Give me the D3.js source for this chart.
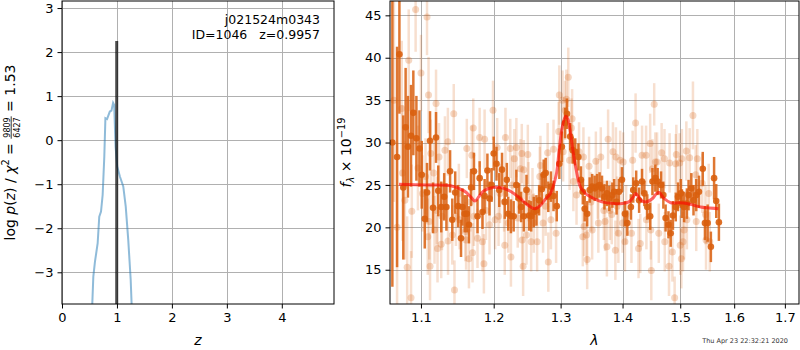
<!DOCTYPE html>
<html>
<head>
<meta charset="utf-8">
<script src="https://cdn.jsdelivr.net/npm/d3@7"></script>
<style>
  body { margin: 0; background: #fff; }
  text { font-family: "DejaVu Sans", sans-serif; }
</style>
</head>
<body>
<div id="chart"></div>
<script>
// ---- data: p(z) panel ----
const pzZ = [0.551, 0.57, 0.6, 0.649, 0.678, 0.71, 0.74, 0.77, 0.79, 0.82, 0.87, 0.90, 0.93, 0.95, 0.975, 1.005, 1.055, 1.115, 1.16, 1.206, 1.25, 1.267];
const pzLog = [-3.72, -3.10, -2.76, -2.34, -1.74, -1.62, -1.24, -0.37, 0.50, 0.48, 0.65, 0.67, 0.85, 0.80, -0.15, -0.60, -0.83, -1.05, -1.51, -2.27, -3.17, -3.72];
const zBest = 0.9957;
const zBestTop = 2.25;
const zTicks = [0, 1, 2, 3, 4];
const pzTicks = [-3, -2, -1, 0, 1, 2, 3];

// ---- data: spectrum panel (dark = first beam, light = second beam) ----
const darkWave = [1.063, 1.069, 1.072, 1.077, 1.080, 1.083, 1.087, 1.090, 1.094, 1.098, 1.101, 1.105, 1.108, 1.112, 1.116, 1.120, 1.123, 1.127, 1.131, 1.134,
  1.139, 1.142, 1.146, 1.150, 1.154, 1.156, 1.159, 1.162, 1.165, 1.168, 1.172, 1.177, 1.180, 1.184, 1.187, 1.191, 1.194, 1.197, 1.200, 1.204,
  1.208, 1.212, 1.216, 1.219, 1.221, 1.225, 1.229, 1.233, 1.237, 1.240, 1.244, 1.248, 1.252, 1.255, 1.259, 1.263, 1.267, 1.271, 1.274, 1.277,
  1.281, 1.285, 1.289, 1.294, 1.298, 1.302, 1.307, 1.310, 1.315, 1.319, 1.323, 1.328, 1.332, 1.335, 1.338, 1.342, 1.346, 1.350, 1.354, 1.358,
  1.362, 1.366, 1.370, 1.374, 1.378, 1.383, 1.386, 1.390, 1.394, 1.399, 1.404, 1.408, 1.414, 1.418, 1.423, 1.428, 1.433, 1.437, 1.442, 1.447,
  1.451, 1.456, 1.460, 1.466, 1.470, 1.474, 1.479, 1.483, 1.487, 1.492, 1.496, 1.501, 1.503, 1.507, 1.512, 1.515, 1.520, 1.524, 1.529, 1.534,
  1.541, 1.545, 1.550, 1.556, 1.562, 1.566, 1.571];
const darkFlux = [30.0, 28.3, 40.4, 24.7, 31.8, 29.5, 30.8, 33.5, 30.5, 29.3, 26.2, 21.0, 24.1, 30.2, 22.3, 30.6, 24.3, 22.4, 23.6, 22.4,
  26.6, 20.9, 24.1, 22.5, 18.7, 22.4, 21.6, 21.6, 20.3, 24.7, 26.6, 21.3, 25.8, 21.8, 23.7, 26.7, 23.4, 25.0, 28.7, 27.5,
  24.4, 26.8, 23.0, 25.6, 21.6, 21.3, 21.3, 25.0, 23.4, 22.4, 21.3, 24.4, 21.4, 21.3, 21.8, 22.0, 23.2, 24.5, 26.2, 26.4,
  23.6, 24.8, 23.7, 22.5, 27.5, 29.5, 32.3, 33.4, 30.7, 29.1, 28.9, 28.3, 25.6, 24.2, 22.2, 21.6, 24.4, 24.8, 24.6, 24.8,
  25.0, 24.6, 23.6, 24.0, 23.4, 23.8, 24.2, 23.0, 24.2, 25.6, 21.6, 20.5, 22.4, 24.4, 25.2, 23.2, 25.4, 24.0, 22.4, 21.3,
  25.4, 25.8, 25.4, 25.0, 23.8, 21.1, 20.3, 19.3, 21.4, 22.4, 23.6, 24.0, 22.8, 22.4, 22.8, 23.8, 24.6, 23.2, 23.8, 24.2,
  26.9, 20.5, 20.5, 17.7, 25.8, 23.1, 20.6];
const darkErr = [17, 13, 7, 8.5, 7, 6, 6, 5, 5, 4.5, 4, 3.5, 3.5, 3.5, 3, 3, 3, 3, 2.8, 2.8,
  2.5, 2.5, 2.5, 2.5, 2.2, 2.2, 2.2, 2.2, 2.2, 2.2, 2.2, 2, 2, 2, 2, 2, 2, 2, 2, 2,
  2, 2, 2, 2, 2, 2, 1.8, 1.8, 1.8, 1.8, 1.8, 1.8, 1.8, 1.8, 1.8, 1.8, 1.8, 1.8, 1.8, 1.8,
  1.8, 1.8, 1.8, 1.8, 1.8, 1.8, 1.8, 1.8, 1.6, 1.6, 1.6, 1.6, 1.6, 1.5, 1.5, 1.5, 1.5, 1.5, 1.5, 1.5,
  1.5, 1.5, 1.5, 1.5, 1.5, 1.5, 1.5, 1.5, 1.5, 1.5, 1.5, 1.5, 1.5, 1.5, 1.5, 1.5, 1.5, 1.5, 1.5, 1.6,
  1.6, 1.6, 1.6, 1.6, 1.6, 1.6, 1.6, 1.6, 1.7, 1.7, 1.7, 1.7, 1.7, 1.8, 1.8, 1.8, 1.8, 1.8, 1.9, 1.9,
  2, 2, 2.2, 1.8, 2.5, 2, 2.2];

const lightWave = [1.065, 1.069, 1.075, 1.076, 1.079, 1.082, 1.084, 1.087, 1.088, 1.093, 1.096, 1.100, 1.102, 1.106, 1.108, 1.109, 1.110, 1.111, 1.112, 1.113,
  1.117, 1.118, 1.120, 1.121, 1.122, 1.124, 1.127, 1.128, 1.132, 1.136, 1.1362, 1.142, 1.144, 1.145, 1.147, 1.151, 1.152, 1.160, 1.161, 1.162,
  1.165, 1.167, 1.169, 1.170, 1.171, 1.172, 1.177, 1.180, 1.184, 1.186, 1.187, 1.189, 1.194, 1.199, 1.202, 1.205, 1.207, 1.209, 1.215, 1.217,
  1.216, 1.221, 1.224, 1.225, 1.227, 1.230, 1.233, 1.235, 1.239, 1.241, 1.2415, 1.243, 1.244, 1.248, 1.250, 1.251, 1.255, 1.257, 1.259, 1.264,
  1.268, 1.269, 1.273, 1.277, 1.280, 1.281, 1.285, 1.289, 1.293, 1.297, 1.298, 1.303, 1.304, 1.307, 1.309, 1.312, 1.314, 1.317, 1.318, 1.320,
  1.325, 1.329, 1.335, 1.336, 1.337, 1.341, 1.342, 1.345, 1.348, 1.350, 1.356, 1.359, 1.360, 1.364, 1.369, 1.371, 1.374, 1.376, 1.379, 1.382,
  1.384, 1.388, 1.389, 1.391, 1.393, 1.396, 1.400, 1.401, 1.404, 1.406, 1.415, 1.417, 1.422, 1.427, 1.430, 1.433, 1.440, 1.4405, 1.447, 1.448,
  1.449, 1.451, 1.454, 1.456, 1.459, 1.462, 1.467, 1.472, 1.4725, 1.480, 1.481, 1.486, 1.490, 1.492, 1.493, 1.499, 1.500, 1.502, 1.503, 1.505,
  1.507, 1.511, 1.512, 1.517, 1.523, 1.528, 1.529, 1.531, 1.540, 1.546, 1.547, 1.552, 1.554];
const lightFlux = [35.0, 20.0, 34.0, 26.4, 23.2, 15.3, 39.7, 11.7, 21.9, 45.7, 27.0, 38.2, 24.0, 26.0, 44.8, 18.9, 35.6, 20.7, 15.4, 28.7,
  26.4, 19.7, 34.6, 22.0, 17.5, 28.3, 18.0, 21.3, 29.1, 30.1, 18.4, 19.1, 33.4, 12.6, 21.3, 24.0, 20.9, 19.5, 18.5, 29.3,
  16.3, 23.0, 28.5, 17.0, 31.7, 21.3, 18.7, 30.6, 18.3, 15.7, 30.4, 22.0, 20.3, 33.8, 20.9, 29.4, 21.3, 24.0, 23.0, 30.6,
  17.9, 20.5, 29.3, 16.5, 25.0, 28.1, 29.4, 21.1, 26.9, 28.7, 18.5, 15.4, 26.8, 19.1, 28.6, 24.2, 18.3, 23.5, 20.5, 18.3,
  26.0, 27.3, 20.5, 22.5, 28.8, 15.9, 20.9, 29.2, 19.3, 31.3, 35.6, 35.0, 28.9, 33.8, 35.1, 37.7, 27.9, 31.7, 32.8, 25.4,
  23.8, 28.9, 18.9, 28.3, 20.1, 19.1, 16.2, 27.2, 23.0, 19.7, 27.8, 24.5, 20.5, 28.3, 22.0, 20.7, 17.7, 30.4, 22.0, 21.5,
  28.9, 17.3, 28.3, 22.5, 19.3, 27.9, 20.5, 27.7, 18.3, 21.5, 19.3, 27.9, 32.3, 17.5, 18.1, 28.5, 28.5, 20.9, 29.9, 19.7,
  14.9, 26.9, 34.5, 27.7, 27.7, 19.3, 28.8, 28.1, 18.3, 15.4, 27.6, 17.1, 11.7, 27.5, 28.6, 27.6, 17.9, 16.3, 28.1, 18.3,
  19.7, 29.0, 20.9, 28.2, 33.2, 26.2, 20.7, 28.1, 25.2, 21.5, 18.5, 24.0, 18.3];
const lightErr = [12, 10, 8, 8, 7, 6, 6, 5.5, 5.5, 5, 5, 4.5, 4.5, 4.5, 4.5, 4.5, 4.5, 4.5, 4, 4,
  4, 4, 4, 4, 4, 4, 4, 4, 4, 4, 4, 3.5, 3.5, 3.5, 3.5, 3.5, 3.5, 3.5, 3.5, 3.5,
  3.5, 3.5, 3.5, 3.5, 3.5, 3.5, 3.5, 3.5, 3.5, 3.5, 3.5, 3.5, 3.5, 3.5, 3.5, 3.5, 3.5, 3.5, 3.5, 3.5,
  3.5, 3.5, 3.5, 3.5, 3.5, 3.5, 3.5, 3.5, 3.5, 3.5, 3.5, 3.5, 3.5, 3.5, 3.5, 3.5, 3.5, 3.5, 3.5, 3.5,
  3.5, 3.5, 3.5, 3.5, 3.5, 3.5, 3.5, 3.5, 3.5, 3.5, 3.5, 3.5, 3.5, 3.5, 3.5, 3.5, 3.5, 3.5, 3.5, 3.5,
  3.5, 3.5, 3.5, 3.5, 3.5, 3.5, 3.5, 3.5, 3.5, 3.5, 3.5, 3.5, 3.5, 3.5, 3.5, 3.5, 3.5, 3.5, 3.5, 3.5,
  3.5, 3.5, 3.5, 3.5, 3.5, 3.5, 3.5, 3.5, 3.5, 3.5, 3.5, 3.5, 3.5, 3.5, 3.5, 3.5, 3.5, 3.5, 3.5, 3.5,
  3.5, 3.5, 2.5, 3.5, 3.5, 3.5, 3.5, 3.5, 3.5, 3.5, 3.5, 3.5, 2.5, 3.5, 3.5, 3.5, 3.5, 3.5, 3.5, 3.5,
  3.5, 3.5, 3.5, 3.5, 4, 3.5, 3.5, 3.5, 3.5, 3.5, 3.5, 3.5, 3.5];

const modelWave = [1.0715, 1.1078, 1.1399, 1.1582, 1.1674, 1.1733, 1.1788, 1.1857, 1.1994, 1.2144, 1.2293, 1.2443, 1.2543, 1.2602, 1.2692, 1.2752,
  1.2842, 1.2932, 1.2976, 1.3027, 1.3079, 1.3112, 1.3147, 1.3200, 1.3244, 1.3309, 1.3389, 1.3524, 1.3658, 1.3847, 1.3992, 1.4108,
  1.4182, 1.4222, 1.4260, 1.4309, 1.4396, 1.4512, 1.4582, 1.4628, 1.4668, 1.4715, 1.4830, 1.4976, 1.5122, 1.5244, 1.5369, 1.5493, 1.5702];
const modelFlux = [25.07, 25.0, 24.9, 24.3, 23.6, 23.1, 23.6, 24.3, 24.7, 24.6, 24.0, 23.0, 22.4, 22.2, 22.6, 23.2,
  24.0, 26.2, 29.0, 31.9, 33.1, 32.8, 31.5, 28.7, 26.8, 24.8, 24.0, 23.4, 23.0, 22.8, 22.8, 23.0,
  23.6, 24.0, 23.7, 23.2, 23.0, 23.4, 24.0, 24.1, 23.8, 23.4, 22.9, 22.9, 22.8, 22.6, 22.4, 22.3, 22.2];
const waveTicks = [1.1, 1.2, 1.3, 1.4, 1.5, 1.6, 1.7];
const fluxTicks = [15, 20, 25, 30, 35, 40, 45];

// ---- drawing ----
const W = 800, H = 350;
const svg = d3.select("#chart").append("svg")
    .attr("width", W).attr("height", H);
svg.append("rect").attr("width", W).attr("height", H).attr("fill", "#fff");

const gridColor = "#b0b0b0";
const tickFont = 13;

// panel boxes
const L = {x0: 62, x1: 334, y0: 1, y1: 304};
const R = {x0: 390, x1: 799, y0: 1, y1: 304};

// scales
const xz = d3.scaleLinear().domain([0, 4.95]).range([L.x0, L.x1]);
const yz = d3.scaleLinear().domain([-3.72, 3.16]).range([L.y1, L.y0]);
const xw = d3.scaleLog().domain([1.06, 1.729]).range([R.x0, R.x1]);
const yf = d3.scaleLinear().domain([10.96, 46.69]).range([R.y1, R.y0]);

const defs = svg.append("defs");
defs.append("clipPath").attr("id", "clipL").append("rect")
    .attr("x", L.x0).attr("y", L.y0).attr("width", L.x1 - L.x0).attr("height", L.y1 - L.y0);
defs.append("clipPath").attr("id", "clipR").append("rect")
    .attr("x", R.x0).attr("y", R.y0).attr("width", R.x1 - R.x0).attr("height", R.y1 - R.y0);

function grid(box, xs, xt, ys, yt) {
    const g = svg.append("g").attr("stroke", gridColor).attr("stroke-width", 1);
    g.selectAll(".gx").data(xt).enter().append("line")
        .attr("x1", d => Math.round(xs(d)) + 0.5).attr("x2", d => Math.round(xs(d)) + 0.5)
        .attr("y1", box.y0).attr("y2", box.y1);
    g.selectAll(".gy").data(yt).enter().append("line")
        .attr("y1", d => Math.round(ys(d)) + 0.5).attr("y2", d => Math.round(ys(d)) + 0.5)
        .attr("x1", box.x0).attr("x2", box.x1);
}

function axes(box, xs, xt, xfmt, ys, yt, yfmt) {
    const ax = svg.append("g")
        .attr("transform", `translate(0,${box.y1})`)
        .call(d3.axisBottom(xs).tickValues(xt).tickFormat(xfmt).tickSize(4.5).tickPadding(4));
    const ay = svg.append("g")
        .attr("transform", `translate(${box.x0},0)`)
        .call(d3.axisLeft(ys).tickValues(yt).tickFormat(yfmt).tickSize(4.5).tickPadding(4));
    [ax, ay].forEach(a => {
        a.select(".domain").remove();
        a.selectAll("text").attr("font-size", tickFont).attr("fill", "#000")
            .style("font-family", "DejaVu Sans");
        a.selectAll("line").attr("stroke", "#000");
    });
    svg.append("rect")
        .attr("x", box.x0).attr("y", box.y0)
        .attr("width", box.x1 - box.x0).attr("height", box.y1 - box.y0)
        .attr("fill", "none").attr("stroke", "#000").attr("stroke-width", 1);
}

// ---- left panel: p(z) ----
grid(L, xz, zTicks, yz, pzTicks);

const left = svg.append("g").attr("clip-path", "url(#clipL)");
left.append("path")
    .datum(pzZ.map((z, i) => [z, pzLog[i]]))
    .attr("fill", "none")
    .attr("stroke", "#1f77b4")
    .attr("stroke-opacity", 0.5)
    .attr("stroke-width", 2)
    .attr("d", d3.line().x(d => xz(d[0])).y(d => yz(d[1])));

left.append("line")
    .attr("x1", xz(zBest)).attr("x2", xz(zBest))
    .attr("y1", L.y1).attr("y2", yz(zBestTop))
    .attr("stroke", "#000").attr("stroke-opacity", 0.7).attr("stroke-width", 3);

axes(L, xz, zTicks, d3.format("d"), yz, pzTicks, d3.format("d"));

svg.append("text").attr("x", 320).attr("y", 24).attr("text-anchor", "end")
    .attr("font-size", 12.5).text("j021524m0343");
svg.append("text").attr("x", 320).attr("y", 38.5).attr("text-anchor", "end")
    .attr("font-size", 12.5).style("white-space", "pre").text("ID=1046   z=0.9957");

svg.append("text").attr("x", (L.x0 + L.x1) / 2).attr("y", 345)
    .attr("text-anchor", "middle").attr("font-size", 14).attr("font-style", "italic").text("z");

// left y label: log p(z) / chi^2 = 9809/6427 = 1.53
const yl = svg.append("g").attr("transform", `translate(15,${(L.y0 + L.y1) / 2}) rotate(-90)`);
const ylIn = yl.append("g");
const t1 = ylIn.append("text").attr("font-size", 14).style("white-space", "pre");
t1.append("tspan").text("log ");
t1.append("tspan").attr("font-style", "italic").text("p");
t1.append("tspan").text("(");
t1.append("tspan").attr("font-style", "italic").text("z");
t1.append("tspan").text(") / ");
t1.append("tspan").attr("font-style", "italic").text("χ");
t1.append("tspan").attr("font-size", 9.8).attr("dy", -6).text("2");
t1.append("tspan").attr("dy", 6).text(" = ");
const len1 = t1.node().getComputedTextLength();
const num = ylIn.append("text").attr("font-size", 8).attr("text-anchor", "middle").text("9809");
const fw = num.node().getComputedTextLength() + 2;
num.attr("x", len1 + fw / 2).attr("y", -5.5);
ylIn.append("text").attr("font-size", 8).attr("text-anchor", "middle")
    .attr("x", len1 + fw / 2).attr("y", 4.5).text("6427");
ylIn.append("line").attr("x1", len1).attr("x2", len1 + fw)
    .attr("y1", -3.8).attr("y2", -3.8).attr("stroke", "#000").attr("stroke-width", 0.8);
const t2 = ylIn.append("text").attr("font-size", 14).style("white-space", "pre")
    .attr("x", len1 + fw).text(" = 1.53");
const totalLen = len1 + fw + t2.node().getComputedTextLength();
ylIn.attr("transform", `translate(${-totalLen / 2},0)`);

// ---- right panel: spectrum ----
grid(R, xw, waveTicks, yf, fluxTicks);

const right = svg.append("g").attr("clip-path", "url(#clipR)");
const orange = "#d95f0e";

const light = lightWave.map((w, i) => ({w: w, f: lightFlux[i], e: lightErr[i]}));
const dark = darkWave.map((w, i) => ({w: w, f: darkFlux[i], e: darkErr[i]}));

right.selectAll(".lbar").data(light).enter().append("line")
    .attr("class", "lbar")
    .attr("x1", d => xw(d.w)).attr("x2", d => xw(d.w))
    .attr("y1", d => yf(d.f - d.e)).attr("y2", d => yf(d.f + d.e))
    .attr("stroke", orange).attr("stroke-opacity", 0.2).attr("stroke-width", 2.5);
right.selectAll(".ldot").data(light).enter().append("circle")
    .attr("class", "ldot")
    .attr("cx", d => xw(d.w)).attr("cy", d => yf(d.f)).attr("r", 3.5)
    .attr("fill", orange).attr("fill-opacity", 0.25);

right.selectAll(".dbar").data(dark).enter().append("line")
    .attr("class", "dbar")
    .attr("x1", d => xw(d.w)).attr("x2", d => xw(d.w))
    .attr("y1", d => yf(d.f - d.e)).attr("y2", d => yf(d.f + d.e))
    .attr("stroke", orange).attr("stroke-opacity", 0.85).attr("stroke-width", 2.5);
right.selectAll(".ddot").data(dark).enter().append("circle")
    .attr("class", "ddot")
    .attr("cx", d => xw(d.w)).attr("cy", d => yf(d.f)).attr("r", 3.3)
    .attr("fill", orange).attr("fill-opacity", 0.9);

right.append("path")
    .datum(modelWave.map((w, i) => [w, modelFlux[i]]))
    .attr("fill", "none")
    .attr("stroke", "red")
    .attr("stroke-opacity", 0.6)
    .attr("stroke-width", 3)
    .attr("d", d3.line().x(d => xw(d[0])).y(d => yf(d[1])).curve(d3.curveCatmullRom));

axes(R, xw, waveTicks, d3.format(".1f"), yf, fluxTicks, d3.format("d"));

svg.append("text").attr("x", (R.x0 + R.x1) / 2).attr("y", 345)
    .attr("text-anchor", "middle").attr("font-size", 14).attr("font-style", "italic").text("λ");

// right y label: f_lambda x 10^-19
const yr = svg.append("g").attr("transform", `translate(351,${(R.y0 + R.y1) / 2}) rotate(-90)`);
const tr = yr.append("text").attr("font-size", 14).attr("text-anchor", "middle").style("white-space", "pre");
tr.append("tspan").attr("font-style", "italic").text("f");
tr.append("tspan").attr("font-style", "italic").attr("font-size", 9.8).attr("dy", 3).text("λ");
tr.append("tspan").attr("dy", -3).text(" × 10");
tr.append("tspan").attr("font-size", 9.8).attr("dy", -6).text("−19");

// timestamp
svg.append("text").attr("x", 788).attr("y", 343).attr("text-anchor", "end")
    .attr("font-size", 6.5).attr("fill", "#333").text("Thu Apr 23 22:32:21 2020");
</script>
</body>
</html>
